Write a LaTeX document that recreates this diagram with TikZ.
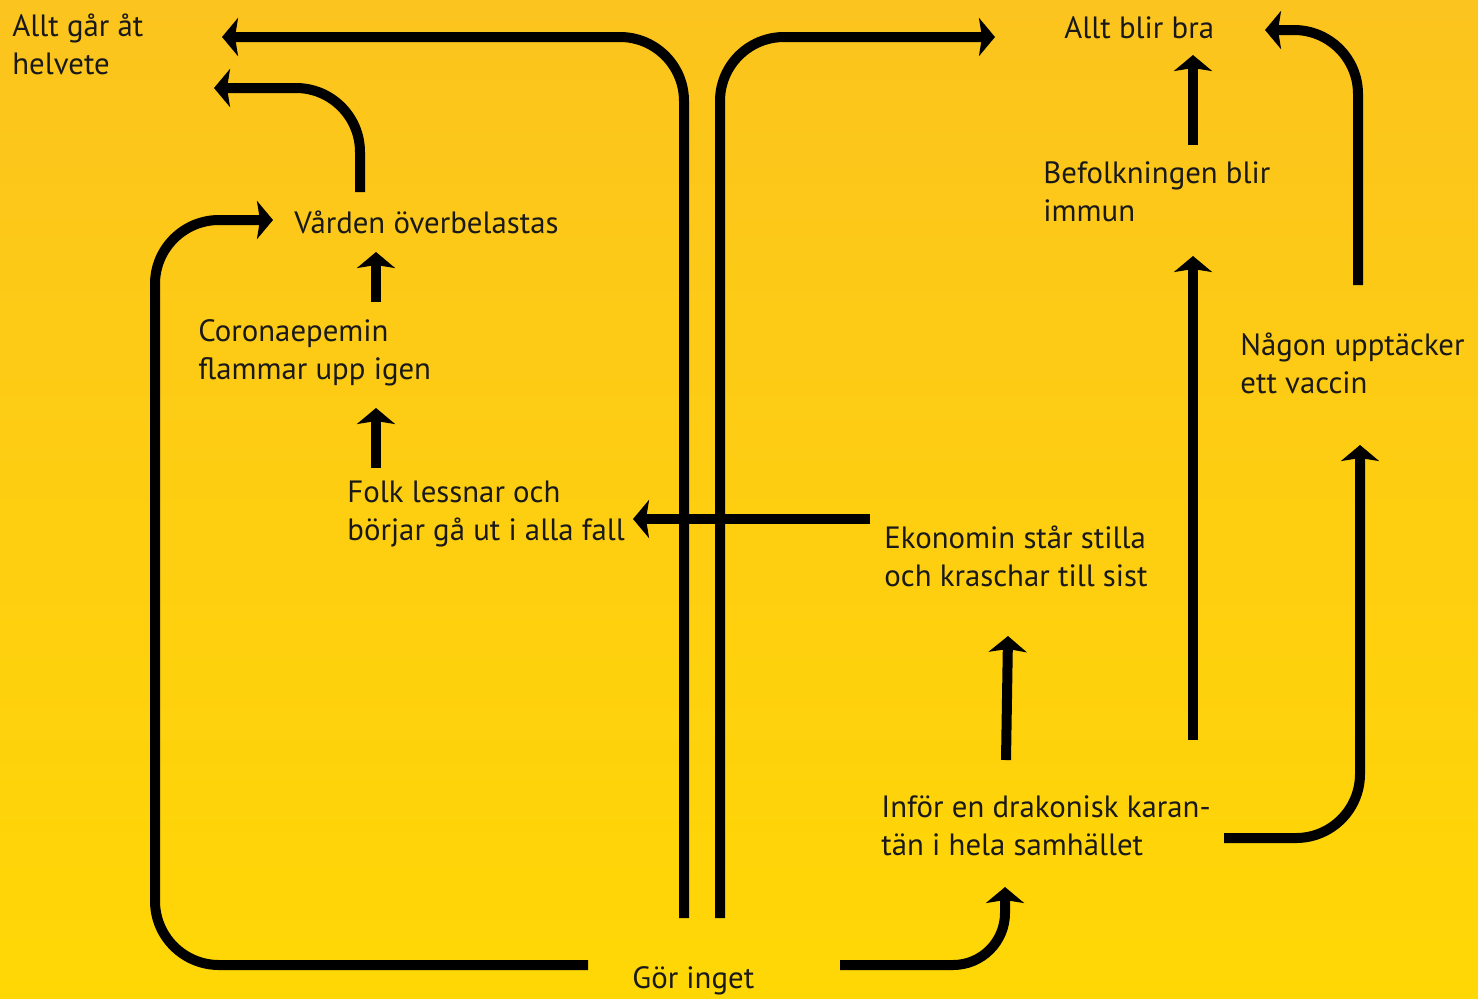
\documentclass[tikz,border=0pt]{standalone}
\usepackage{fontspec}
\setmainfont{PT Sans}
\usetikzlibrary{arrows.meta}
\definecolor{bgtop}{RGB}{252,196,30}
\definecolor{bgbottom}{RGB}{255,215,5}
\definecolor{inkcolor}{RGB}{25,25,25}
\begin{document}
\begin{tikzpicture}[x=0.5pt,y=-0.5pt,
event/.style={
  anchor=base west,
  inner sep=0pt,
  align=left,
  text=inkcolor,
  font={\fontsize{15.4}{19}\selectfont}},
leadsto/.style={
  draw=black,
  line width=5pt,
  rounded corners=32pt,
  -{Stealth[length=8pt,width=19pt,inset=1.5pt]}},
]
\shade[top color=bgtop,bottom color=bgbottom] (0,0) rectangle (1478,998);
\useasboundingbox (0,0) rectangle (1478,998);

\node[event] (HELL) at (12,74) {Allt går åt\\helvete};
\node[event] (GOOD) at (1064,38) {Allt blir bra};
\node[event] (IMMUN) at (1043,221) {Befolkningen blir\\immun};
\node[event] (CARE) at (294,233) {Vården överbelastas};
\node[event] (FLARE) at (198,379) {Coronaepemin\\flammar upp igen};
\node[event] (VACC) at (1240,393) {Någon upptäcker\\ett vaccin};
\node[event] (TIRED) at (347,540) {Folk lessnar och\\börjar gå ut i alla fall};
\node[event] (ECON) at (884,586) {Ekonomin står stilla\\och kraschar till sist};
\node[event] (QUAR) at (881,855) {Inför en drakonisk karan-\\tän i hela samhället};
\node[event] (NONE) at (632,988) {Gör inget};

\draw[leadsto] ([shift={(-44,-23)}]NONE.base west) -- ++(-433,0) |- ([shift={(-21,-13)}]CARE.base west);
\draw[leadsto] ([shift={(52,-70)}]NONE.base west) |- ([shift={(210,-37)}]HELL.base west);
\draw[leadsto] ([shift={(88,-70)}]NONE.base west) |- ([shift={(-69,-1)}]GOOD.base west);
\draw[leadsto] ([shift={(66,-41)}]CARE.base west) |- ([shift={(202,14)}]HELL.base west);
\draw[leadsto] ([shift={(178,-77)}]FLARE.base west) -- ([shift={(82,19)}]CARE.base west);
\draw[leadsto] ([shift={(29,-72)}]TIRED.base west) -- ([shift={(178,29)}]FLARE.base west);
\draw[leadsto] ([shift={(-14,-67)}]ECON.base west) -- ([shift={(286,-21)}]TIRED.base west);
\draw[leadsto] ([shift={(125,-95)}]QUAR.base west) -- ([shift={(124,50)}]ECON.base west);
\draw[leadsto,rounded corners=26pt] ([shift={(208,-23)}]NONE.base west) -| ([shift={(124,32)}]QUAR.base west);
\draw[leadsto] ([shift={(312,-115)}]QUAR.base west) -- ([shift={(150,35)}]IMMUN.base west);
\draw[leadsto] ([shift={(150,-76)}]IMMUN.base west) -- ([shift={(129,17)}]GOOD.base west);
\draw[leadsto] ([shift={(343,-17)}]QUAR.base west) -| ([shift={(120,52)}]VACC.base west);
\draw[leadsto] ([shift={(118,-108)}]VACC.base west) |- ([shift={(201,-8)}]GOOD.base west);
\end{tikzpicture}
\end{document}
